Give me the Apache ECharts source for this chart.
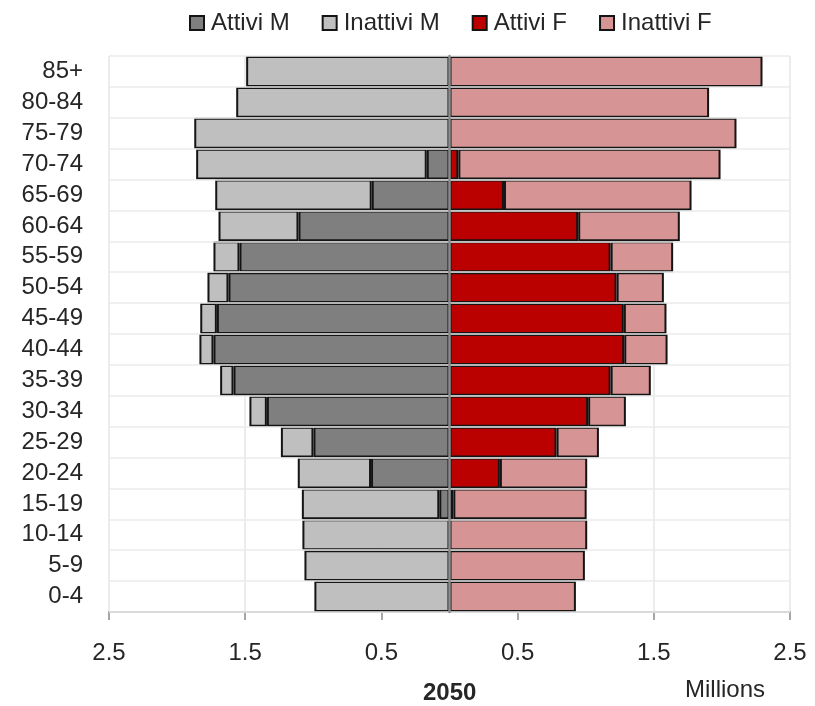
<!DOCTYPE html>
<html>
<head>
<meta charset="utf-8">
<script src="https://cdn.jsdelivr.net/npm/echarts@6/dist/echarts.min.js"></script>
<style>
html,body{margin:0;padding:0;background:#fff;}
#chart{width:815px;height:706px;}
</style>
</head>
<body>
<div id="chart"></div>
<script>
const categories = ['85+','80-84','75-79','70-74','65-69','60-64','55-59','50-54','45-49','40-44','35-39','30-34','25-29','20-24','15-19','10-14','5-9','0-4'];
// millions (top to bottom)
const attiviM   = [0, 0, 0, 0.167, 0.571, 1.109, 1.542, 1.623, 1.708, 1.733, 1.586, 1.341, 0.999, 0.576, 0.075, 0, 0, 0];
const inattiviM = [1.493, 1.566, 1.874, 1.693, 1.149, 0.587, 0.191, 0.154, 0.122, 0.103, 0.098, 0.128, 0.239, 0.538, 1.009, 1.080, 1.065, 0.992];
const attiviF   = [0, 0, 0, 0.065, 0.400, 0.945, 1.183, 1.227, 1.280, 1.283, 1.183, 1.018, 0.786, 0.370, 0.028, 0, 0, 0];
const inattiviF = [2.298, 1.906, 2.107, 1.925, 1.377, 0.746, 0.459, 0.347, 0.313, 0.318, 0.295, 0.277, 0.311, 0.641, 0.979, 1.011, 0.994, 0.928];
const xTicks = [-2.5, -1.5, -0.5, 0.5, 1.5, 2.5];
const yearLabel = '2050';
const unitLabel = 'Millions';

const FONT = '"Liberation Sans", Arial, sans-serif';
const TXT = '#262626';
const neg = a => a.map(v => v === 0 ? '-' : -v);
const pos = a => a.map(v => v === 0 ? '-' : v);

const border = {borderColor: '#141414', borderWidth: 2};
function mk(name, data, color) {
  return {
    name: name, type: 'bar', stack: 'all', data: data,
    barCategoryGap: 0,
    itemStyle: Object.assign({color: color}, border),
    emphasis: {disabled: true}
  };
}

const chart = echarts.init(document.getElementById('chart'), null, {renderer: 'canvas'});
chart.setOption({
  animation: false,
  backgroundColor: '#ffffff',
  legend: {
    top: 6, left: 184,
    icon: 'rect', itemWidth: 14, itemHeight: 14, itemGap: 32,
    textStyle: {fontFamily: FONT, fontSize: 24, color: TXT, padding: [0, 0, 0, 2]},
    data: ['Attivi M', 'Inattivi M', 'Attivi F', 'Inattivi F']
  },
  grid: {left: 109, right: 25, top: 56, bottom: 94},
  xAxis: {
    type: 'value', min: -2.5, max: 2.5, interval: 1,
    axisLine: {show: true, onZero: false, lineStyle: {color: '#a6a6a6', width: 2}},
    axisTick: {show: true, length: 8, lineStyle: {color: '#a6a6a6', width: 2}},
    axisLabel: {margin: 29, fontFamily: FONT, fontSize: 24, color: TXT,
      formatter: v => Math.abs(v).toFixed(1)},
    splitLine: {show: true, lineStyle: {color: '#e6e6e6', width: 1.5}}
  },
  yAxis: {
    type: 'category', data: categories, inverse: true, z: 10,
    axisLine: {show: true, onZero: true, lineStyle: {color: '#8c8c8c', width: 2.5}},
    axisTick: {show: false},
    axisLabel: {interval: 0, margin: 26, fontFamily: FONT, fontSize: 24, color: TXT},
    splitLine: {show: true, interval: 0, lineStyle: {color: '#ebebeb', width: 1.5}}
  },
  graphic: [
    {type: 'text', left: 423, top: 681,
     style: {text: yearLabel, font: 'bold 24px ' + FONT, fill: TXT}},
    {type: 'text', left: 685, top: 678,
     style: {text: unitLabel, font: '24px ' + FONT, fill: TXT}}
  ],
  series: [
    mk('Attivi M', neg(attiviM), '#7f7f7f'),
    mk('Inattivi M', neg(inattiviM), '#bfbfbf'),
    mk('Attivi F', pos(attiviF), '#bb0000'),
    mk('Inattivi F', pos(inattiviF), '#d79494')
  ]
});
</script>
</body>
</html>
